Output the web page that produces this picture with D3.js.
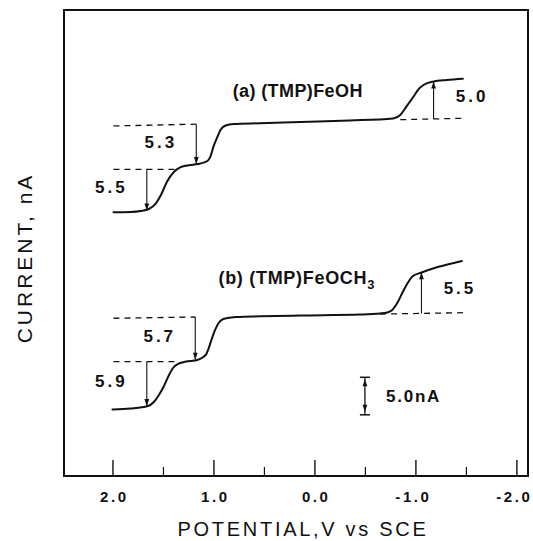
<!DOCTYPE html>
<html>
<head>
<meta charset="utf-8">
<script src="https://cdn.jsdelivr.net/npm/d3@7"></script>
<style>
  html, body { margin: 0; padding: 0; background: #fff; }
  svg { display: block; }
  text { font-family: "Liberation Sans", Arial, Helvetica, sans-serif; fill: #111; }
</style>
</head>
<body>
<svg id="chart" width="533" height="541"></svg>
<script>
// Polarograms of (TMP)FeOH and (TMP)FeOCH3 — potential (V vs SCE) against current (nA)

// Trace (a): (TMP)FeOH
const potentialA = [1.99, 1.82, 1.72, 1.64, 1.57, 1.52, 1.46, 1.39, 1.33, 1.26, 1.19, 1.13, 1.06, 1.03, 1.00,
                    0.96, 0.93, 0.88, 0.80, 0.54, 0.14, -0.35, -0.78, -0.85, -0.91, -0.98, -1.03, -1.08,
                    -1.18, -1.31, -1.47];
const currentA   = [35.16, 35.20, 35.33, 35.60, 36.36, 37.47, 39.24, 40.57, 41.16, 41.40, 41.53, 41.67, 42.00,
                    42.57, 43.91, 45.24, 46.13, 46.73, 46.93, 47.03, 47.20, 47.40, 47.67, 48.13, 49.24, 50.57,
                    51.56, 52.13, 52.60, 52.80, 52.97];

// Trace (b): (TMP)FeOCH3
const potentialB = [2.00, 1.82, 1.65, 1.59, 1.54, 1.49, 1.44, 1.40, 1.36, 1.29, 1.23, 1.16, 1.10, 1.07, 1.05,
                    1.00, 0.95, 0.91, 0.86, 0.77, 0.54, 0.14, -0.45, -0.65, -0.72, -0.77, -0.82, -0.88,
                    -0.93, -0.97, -1.06, -1.19, -1.34, -1.46];
const currentB   = [8.87, 9.00, 9.33, 9.87, 10.80, 12.00, 13.47, 14.40, 14.87, 15.20, 15.33, 15.47, 15.87,
                    16.27, 16.93, 18.93, 20.36, 20.87, 21.07, 21.20, 21.29, 21.40, 21.53, 21.67, 21.80,
                    22.13, 23.07, 24.67, 25.87, 26.60, 27.13, 27.73, 28.27, 28.67];

// Wave heights (nA), measured from the dashed baselines
const wavePotential = [-1.18, 1.17, 1.66, -1.06, 1.18, 1.66];
const waveBase      = [47.61, 46.91, 40.89, 21.68, 21.20, 15.24];
const waveHeight    = [5.0, 5.3, 5.5, 5.5, 5.7, 5.9];
const waveSign      = [1, -1, -1, 1, -1, -1];

// Dashed baselines (start/end potential and current)
const basePotential0 = [1.99, -0.85, 1.99, 1.99, -0.65, 1.99];
const baseCurrent0   = [46.67, 47.51, 40.89, 21.03, 21.59, 15.24];
const basePotential1 = [1.17, -1.47, 1.36, 1.18, -1.47, 1.36];
const baseCurrent1   = [46.91, 47.69, 40.89, 21.20, 21.77, 15.24];

// Current scale bar
const scaleBarPotential = -0.5;
const scaleBarCurrent = 8.16;
const scaleBarValue = 5.0;

// Axis ticks
const majorTicks = [2, 1, 0, -1, -2];
const tickLabels = ["2.0", "1.0", "0.0", "-1.0", "-2.0"];
const minorTicks = [1.5, 0.5, -0.5, -1.5];

// ---- layout ----
const svg = d3.select("#chart");
const plotLeft = 64, plotRight = 528, plotTop = 10, plotBottom = 476;
const ink = "#111";

const x = d3.scaleLinear().domain([2.48, -2.115]).range([plotLeft, plotRight]);
const y = d3.scaleLinear().domain([0, 62.13]).range([plotBottom, plotTop]);

svg.append("rect").attr("width", 533).attr("height", 541).attr("fill", "#fff");

// x axis with inward ticks
const tickSpacing = 2.6;
const axisG = svg.append("g").attr("transform", `translate(0,${plotBottom})`);
axisG.call(d3.axisBottom(x).tickValues(majorTicks).tickSize(-16).tickPadding(15.5)
  .tickFormat((d, i) => tickLabels[i]));
axisG.select(".domain").remove();
axisG.selectAll(".tick line").attr("stroke", ink).attr("stroke-width", 1.4);
axisG.selectAll(".tick text")
  .attr("fill", ink)
  .attr("font-family", "'Liberation Sans', Arial, sans-serif")
  .attr("font-size", 15).attr("font-weight", "bold")
  .style("letter-spacing", tickSpacing + "px")
  // keep the digits centred on the tick, the minus sign hangs to the left
  .attr("dx", (d, i) => tickLabels[i].startsWith("-") ? -2.5 : tickSpacing / 2);

const minorG = svg.append("g").attr("transform", `translate(0,${plotBottom})`);
minorG.call(d3.axisBottom(x).tickValues(minorTicks).tickSize(-9).tickFormat(""));
minorG.select(".domain").remove();
minorG.selectAll(".tick line").attr("stroke", ink).attr("stroke-width", 1.2);

// frame
svg.append("rect")
  .attr("x", plotLeft).attr("y", plotTop)
  .attr("width", plotRight - plotLeft).attr("height", plotBottom - plotTop)
  .attr("fill", "none").attr("stroke", ink).attr("stroke-width", 2);

// dashed baselines
svg.append("g").selectAll("line")
  .data(d3.range(basePotential0.length))
  .join("line")
  .attr("x1", i => x(basePotential0[i])).attr("y1", i => y(baseCurrent0[i]))
  .attr("x2", i => x(basePotential1[i])).attr("y2", i => y(baseCurrent1[i]))
  .attr("stroke", ink).attr("stroke-width", 1.3)
  .attr("stroke-dasharray", "6,5");

// traces
const line = d3.line()
  .x(d => x(d[0])).y(d => y(d[1]))
  .curve(d3.curveMonotoneX);
const traces = [
  d3.zip(potentialA, currentA),
  d3.zip(potentialB, currentB)
];
svg.append("g").selectAll("path")
  .data(traces)
  .join("path")
  .attr("d", line)
  .attr("fill", "none").attr("stroke", ink)
  .attr("stroke-width", 2).attr("stroke-linejoin", "round").attr("stroke-linecap", "round");

// wave-height arrows with their values
function arrowHead(g, px, py, dir) {
  // dir = -1 points up on screen, +1 points down
  const len = 7, half = 2.4;
  g.append("path")
    .attr("d", `M${px},${py} L${px - half},${py - dir * len} L${px + half},${py - dir * len} Z`)
    .attr("fill", ink);
}
const arrowsG = svg.append("g");
wavePotential.forEach((v, i) => {
  const px = x(v);
  const y0 = y(waveBase[i]);
  const y1 = y(waveBase[i] + waveSign[i] * waveHeight[i]);
  arrowsG.append("line")
    .attr("x1", px).attr("y1", y0).attr("x2", px).attr("y2", y1)
    .attr("stroke", ink).attr("stroke-width", 1.1);
  arrowHead(arrowsG, px, y1, y1 > y0 ? 1 : -1);
  const side = waveSign[i] > 0 ? 1 : -1;
  arrowsG.append("text")
    .attr("x", px + side * 37 + 1.5)
    .attr("y", (y0 + y1) / 2 + (side > 0 ? -4 : -2))
    .attr("text-anchor", "middle")
    .attr("dominant-baseline", "central")
    .attr("font-size", 17).attr("font-weight", "bold")
    .style("letter-spacing", "3px")
    .text(waveHeight[i].toFixed(1));
});

// current scale bar
const sb = svg.append("g");
const sbx = x(scaleBarPotential);
const sbTop = y(scaleBarCurrent + scaleBarValue), sbBot = y(scaleBarCurrent);
sb.append("line").attr("x1", sbx).attr("x2", sbx).attr("y1", sbTop).attr("y2", sbBot)
  .attr("stroke", ink).attr("stroke-width", 1.3);
[sbTop, sbBot].forEach(yy => sb.append("line")
  .attr("x1", sbx - 5).attr("x2", sbx + 5).attr("y1", yy).attr("y2", yy)
  .attr("stroke", ink).attr("stroke-width", 1.5));
arrowHead(sb, sbx, sbTop + 2, -1);
arrowHead(sb, sbx, sbBot - 3, 1);
sb.append("text")
  .attr("x", sbx + 21).attr("y", (sbTop + sbBot) / 2)
  .attr("dominant-baseline", "central")
  .attr("font-size", 17).attr("font-weight", "bold")
  .style("letter-spacing", "1.8px")
  .text(scaleBarValue.toFixed(1) + "nA");

// trace labels
svg.append("text")
  .attr("x", x(0.81)).attr("y", y(50.53))
  .attr("font-size", 18).attr("font-weight", "bold")
  .style("letter-spacing", "0.4px")
  .text("(a) (TMP)FeOH");

const tb = svg.append("text")
  .attr("x", x(0.95)).attr("y", y(25.6))
  .attr("font-size", 18).attr("font-weight", "bold")
  .style("letter-spacing", "0.7px");
tb.append("tspan").text("(b) (TMP)FeOCH");
tb.append("tspan").attr("font-size", 13).attr("dy", 5).text("3");

// axis titles
svg.append("text")
  .attr("x", 303).attr("y", 535.5)
  .attr("text-anchor", "middle")
  .attr("font-size", 20)
  .style("letter-spacing", "2.7px")
  .text("POTENTIAL,V vs SCE");

svg.append("text")
  .attr("transform", "translate(31.5,258) rotate(-90)")
  .attr("text-anchor", "middle")
  .attr("font-size", 21)
  .style("letter-spacing", "3px")
  .text("CURRENT, nA");
</script>
</body>
</html>
